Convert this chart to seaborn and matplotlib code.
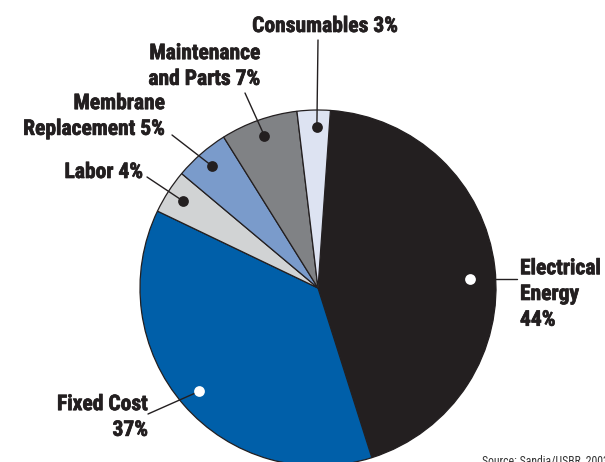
import numpy as np
import matplotlib
matplotlib.use("Agg")
import matplotlib.pyplot as plt
import matplotlib.patheffects as pe
import seaborn as sns

# wedge order: clockwise from near 12 o'clock
categories = ["Electrical Energy", "Fixed Cost", "Labor",
              "Membrane Replacement", "Maintenance and Parts", "Consumables"]
shares = [44, 37, 4, 5, 7, 3]
labels = ["Electrical\nEnergy\n44%", "Fixed Cost\n37%", "Labor 4%",
          "Membrane\nReplacement 5%", "Maintenance\nand Parts 7%", "Consumables 3%"]
colors = ["#231f20", "#005fa9", "#d1d3d4", "#7a9bcb", "#808285", "#dde3f2"]
dot_colors = ["white", "white", "#231f20", "#231f20", "#231f20", "#231f20"]
source = "Source: Sandia/USBR, 2003"

W, H = 605, 462
CX, CY, R = 318, H - 288, 178

sns.set_theme(style="white")
plt.rcParams["font.family"] = ["Roboto Condensed", "DejaVu Sans"]
ink = "#231f20"

fig = plt.figure(figsize=(W / 100, H / 100), dpi=100)
ax = fig.add_axes([0, 0, 1, 1])

wedges, _ = ax.pie(shares, colors=colors, startangle=86, counterclock=False,
                   center=(CX, CY), radius=R,
                   wedgeprops=dict(edgecolor=ink, linewidth=0.9))
ax.set_xlim(0, W)
ax.set_ylim(0, H)
ax.set_aspect("equal")
ax.axis("off")

# text anchor, alignment, leader start, dot radius fraction, dot angle shift
layout = [
    dict(xy=(520, H - 294), ha="left", start=(517, None), rf=0.855, da=-3.4),
    dict(xy=(148, H - 417), ha="right", start=(148, H - 414), rf=0.885, da=0),
    dict(xy=(143, H - 172), ha="right", start=(147, H - 177), rf=0.905, da=0),
    dict(xy=(165, H - 116), ha="right", start=(172, H - 135), rf=0.91, da=0),
    dict(xy=(260, H - 66), ha="right", start=(245, H - 93), rf=0.905, da=0),
    dict(xy=(325, H - 26), ha="center", start=(318, H - 40), rf=0.905, da=-1),
]

heavy = [pe.withStroke(linewidth=0.5, foreground=ink)]

for w, lab, dc, lay in zip(wedges, labels, dot_colors, layout):
    mid = np.deg2rad((w.theta1 + w.theta2) / 2 + lay["da"])
    dx = CX + lay["rf"] * R * np.cos(mid)
    dy = CY + lay["rf"] * R * np.sin(mid)
    sx, sy = lay["start"]
    if sy is None:
        sy = dy
    ax.plot([sx, dx], [sy, dy], color=ink, lw=1.0, zorder=3)
    ax.scatter([dx], [dy], s=60, color=dc, zorder=4, linewidths=0)
    tx, ty = lay["xy"]
    ax.text(tx, ty, lab, ha=lay["ha"], va="center", fontsize=15.5,
            fontweight="bold", color=ink, linespacing=1.22, zorder=5,
            path_effects=heavy)

ax.text(482, H - 468, source, ha="left", va="bottom", fontsize=8.5,
        color="#333333", clip_on=False)

fig.savefig("out.png", dpi=100)
